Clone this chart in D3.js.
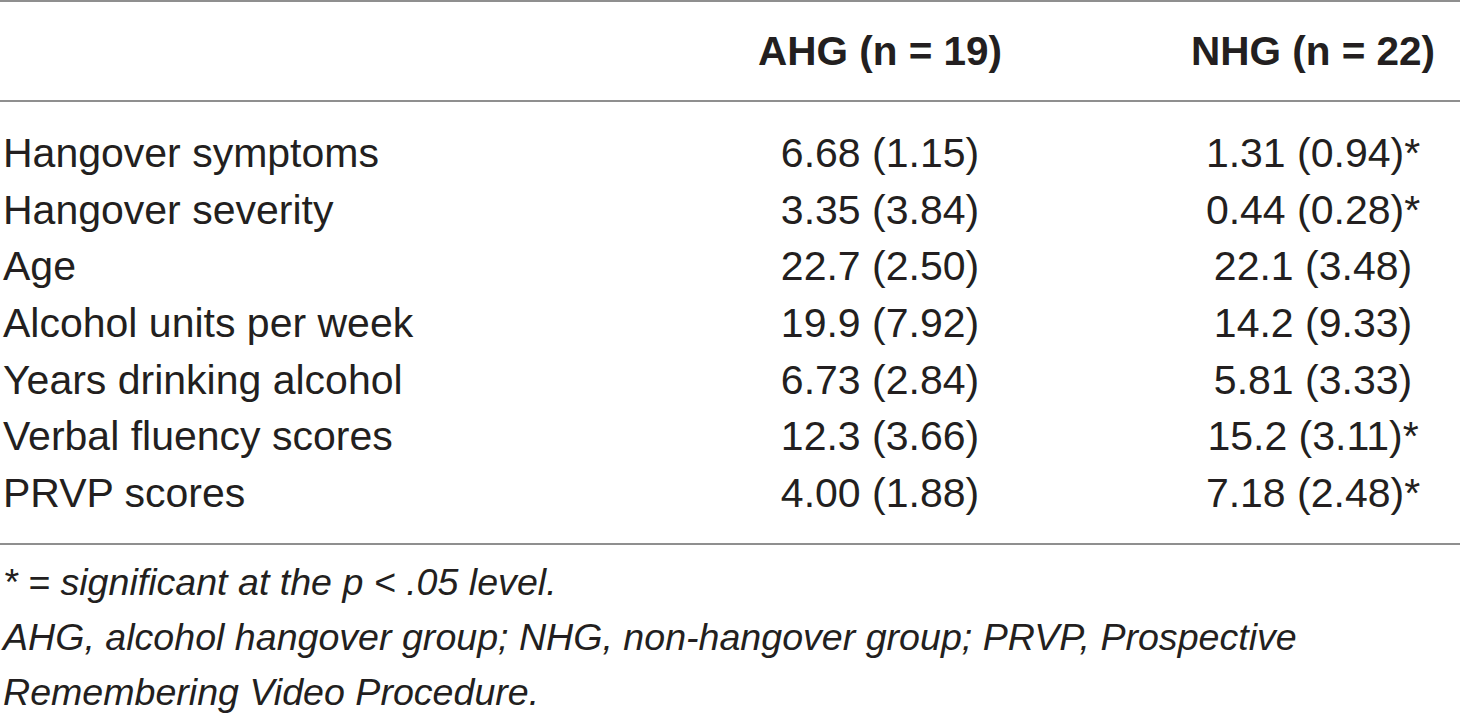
<!DOCTYPE html>
<html>
<head>
<meta charset="utf-8">
<script src="https://cdn.jsdelivr.net/npm/d3@7"></script>
<style>
  html, body { margin: 0; padding: 0; background: #fff; }
  svg { display: block; }
  text { font-family: "Liberation Sans", Arial, Helvetica, sans-serif; fill: #231f20; }
</style>
</head>
<body>
<svg id="chart" width="1460" height="714"></svg>
<script>
// ---- data ----
const columns = ["AHG (n = 19)", "NHG (n = 22)"];
const rowLabels = [
  "Hangover symptoms",
  "Hangover severity",
  "Age",
  "Alcohol units per week",
  "Years drinking alcohol",
  "Verbal fluency scores",
  "PRVP scores"
];
const ahgMean = ["6.68", "3.35", "22.7", "19.9", "6.73", "12.3", "4.00"];
const ahgSD   = ["1.15", "3.84", "2.50", "7.92", "2.84", "3.66", "1.88"];
const nhgMean = ["1.31", "0.44", "22.1", "14.2", "5.81", "15.2", "7.18"];
const nhgSD   = ["0.94", "0.28", "3.48", "9.33", "3.33", "3.11", "2.48"];
const significant = [true, true, false, false, false, true, true];
const footnotes = [
  "* = significant at the p < .05 level.",
  "AHG, alcohol hangover group; NHG, non-hangover group; PRVP, Prospective",
  "Remembering Video Procedure."
];

// ---- layout ----
const svg = d3.select("#chart");
const W = 1460;

const colX = d3.scaleOrdinal().domain(columns).range([880, 1313]);

const y = d3.scalePoint()
  .domain(rowLabels)
  .range([167, 507]);

const lineColor = "#8f8f8f";
const rules = [1, 101, 544];
svg.selectAll("line.rule")
  .data(rules)
  .join("line")
  .attr("class", "rule")
  .attr("x1", 0).attr("x2", W)
  .attr("y1", d => d).attr("y2", d => d)
  .attr("stroke", lineColor)
  .attr("stroke-width", 2);

// header
svg.selectAll("text.head")
  .data(columns)
  .join("text")
  .attr("class", "head")
  .attr("x", d => colX(d))
  .attr("y", 65)
  .attr("text-anchor", "middle")
  .style("font-size", "40.5px")
  .style("font-weight", "bold")
  .text(d => d);

// row labels
svg.selectAll("text.rowlabel")
  .data(rowLabels)
  .join("text")
  .attr("class", "rowlabel")
  .attr("x", 3)
  .attr("y", d => y(d))
  .style("font-size", "41px")
  .text(d => d);

// cells
const cells = [];
rowLabels.forEach((r, i) => {
  cells.push({ row: r, col: columns[0], txt: `${ahgMean[i]} (${ahgSD[i]})` });
  cells.push({ row: r, col: columns[1], txt: `${nhgMean[i]} (${nhgSD[i]})${significant[i] ? "*" : ""}` });
});
svg.selectAll("text.cell")
  .data(cells)
  .join("text")
  .attr("class", "cell")
  .attr("x", d => colX(d.col))
  .attr("y", d => y(d.row))
  .attr("text-anchor", "middle")
  .style("font-size", "41px")
  .text(d => d.txt);

// footnotes
const fy = d3.scalePoint().domain(footnotes).range([595, 705]);
svg.selectAll("text.foot")
  .data(footnotes)
  .join("text")
  .attr("class", "foot")
  .attr("x", 3)
  .attr("y", d => fy(d))
  .style("font-size", "37.6px")
  .style("font-style", "italic")
  .text(d => d);
</script>
</body>
</html>
